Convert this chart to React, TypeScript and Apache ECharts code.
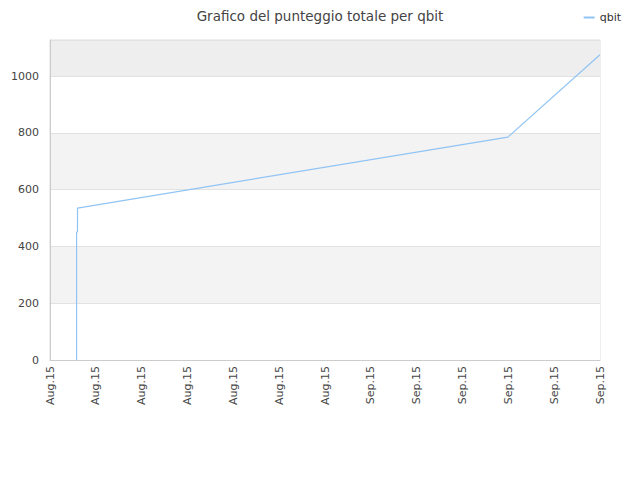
import React, { useEffect, useRef } from "react";
import * as echarts from "echarts";

const tickLabels = [
  "Aug.15", "Aug.15", "Aug.15", "Aug.15", "Aug.15", "Aug.15", "Aug.15",
  "Sep.15", "Sep.15", "Sep.15", "Sep.15", "Sep.15", "Sep.15",
];
const seriesName = "qbit";
const xValues = [0.58, 0.58, 0.6, 0.6, 9.99, 12];
const yValues = [0, 450, 452, 535, 785, 1075];
const yMax = 1127;

export default function App() {
  const ref = useRef<HTMLDivElement>(null);
  useEffect(() => {
    if (!ref.current) return;
    const chart = echarts.init(ref.current, null, { renderer: "svg" });
    const font = "DejaVu Sans";
    chart.setOption({
      animation: false,
      title: {
        text: "Grafico del punteggio totale per qbit",
        left: "center",
        top: 4,
        textStyle: { fontFamily: font, fontSize: 13.5, fontWeight: "normal", color: "#444" },
      },
      legend: {
        right: 14,
        top: 7,
        icon: "rect",
        itemWidth: 11,
        itemHeight: 2,
        itemGap: 5,
        textStyle: { fontFamily: font, fontSize: 11, color: "#333" },
        data: [seriesName],
      },
      grid: { left: 50, right: 40, top: 40, bottom: 120, containLabel: false, outerBoundsMode: "none",
        show: true, borderColor: "#dddddd", borderWidth: 1 },
      xAxis: {
        type: "value",
        min: 0,
        max: tickLabels.length - 1,
        interval: 1,
        axisLine: { show: true, lineStyle: { color: "#cccccc" } },
        axisTick: { show: false },
        splitLine: { show: false },
        axisLabel: {
          rotate: 90,
          margin: 6,
          fontFamily: font,
          fontSize: 11,
          color: "#444",
          formatter: (v: number) => tickLabels[Math.round(v)] ?? "",
        },
      },
      yAxis: {
        type: "value",
        min: 0,
        max: yMax,
        interval: 200,
        axisLine: { show: true, lineStyle: { color: "#cccccc" } },
        axisTick: { show: false },
        axisLabel: { fontFamily: font, fontSize: 11, color: "#444", margin: 11, showMaxLabel: false,
          formatter: (v: number) => String(v) },
        splitLine: { show: true, lineStyle: { color: "#e2e2e2" } },
        splitArea: {
          show: true,
          areaStyle: { color: ["#ffffff", "#f3f3f3", "#ffffff", "#f3f3f3", "#ffffff", "#eeeeee"] },
        },
      },
      series: [
        {
          name: seriesName,
          type: "line",
          showSymbol: false,
          symbol: "none",
          color: "#90c4f4",
          lineStyle: { width: 1.2, color: "#90c4f4" },
          data: xValues.map((x, i) => [x, yValues[i]]),
        },
      ],
    });
    return () => chart.dispose();
  }, []);
  return <div ref={ref} style={{ width: 640, height: 480, position: "absolute", left: 0, top: 0 }} />;
}
